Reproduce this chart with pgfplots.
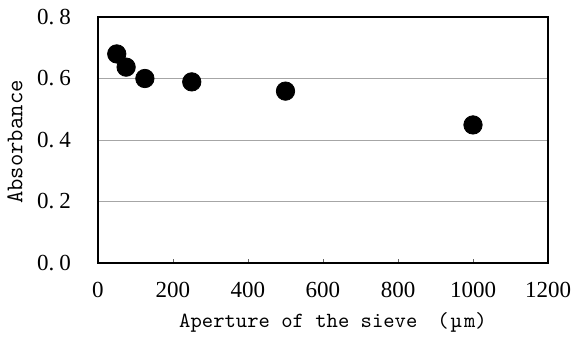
\documentclass[border=0pt]{standalone}
\usepackage{fontspec}
\setmainfont{Liberation Serif}
\usepackage{pgfplots}
\pgfplotsset{compat=1.18}
\begin{document}
\begin{tikzpicture}
\begin{axis}[
  scale only axis,
  width=225pt, height=123pt,
  xmin=0, xmax=1200, ymin=0, ymax=0.8,
  xtick={0,200,400,600,800,1000,1200},
  ytick={0,0.2,0.4,0.6,0.8},
  yticklabels={0.\hspace{2.5pt}0,0.\hspace{2.5pt}2,0.\hspace{2.5pt}4,0.\hspace{2.5pt}6,0.\hspace{2.5pt}8},
  /pgf/number format/1000 sep={},
  xtick pos=bottom, ytick pos=left,
  tick align=inside,
  major tick length=2pt,
  ytick style={draw=none},
  xtick style={draw=black!60, line width=0.3pt},
  ymajorgrids,
  grid style={draw=black!35, line width=0.4pt},
  axis line style={line width=0.9pt},
  tick label style={font=\fontsize{11.5}{12}\selectfont},
  /pgf/number format/assume math mode=true,
  xticklabel style={anchor=north, yshift=-6pt},
  yticklabel style={anchor=east, xshift=-10pt},
  xlabel={\fontsize{10.8}{12}\selectfont\ttfamily Aperture of the sieve\hspace{10pt}(\hspace{1pt}\textmu\hspace{1pt}m)},
  ylabel={\fontsize{12}{13}\selectfont\ttfamily Absorbance},
  xlabel style={at={(axis description cs:0.5,0)}, anchor=base, yshift=-32pt, xshift=5pt},
  ylabel style={at={(axis description cs:0,0.5)}, anchor=center, yshift=41.5pt, xshift=-1pt},
]
\addplot[only marks, mark=*, mark size=4.6pt, black] coordinates {
  (50,0.68) (75,0.637) (125,0.60) (250,0.589) (500,0.559) (1000,0.449)
};
\end{axis}
\pgfresetboundingbox
\path (current axis.south west) ++(-49pt,-38pt) rectangle ++(286.5pt,169.5pt);
\end{tikzpicture}
\end{document}
